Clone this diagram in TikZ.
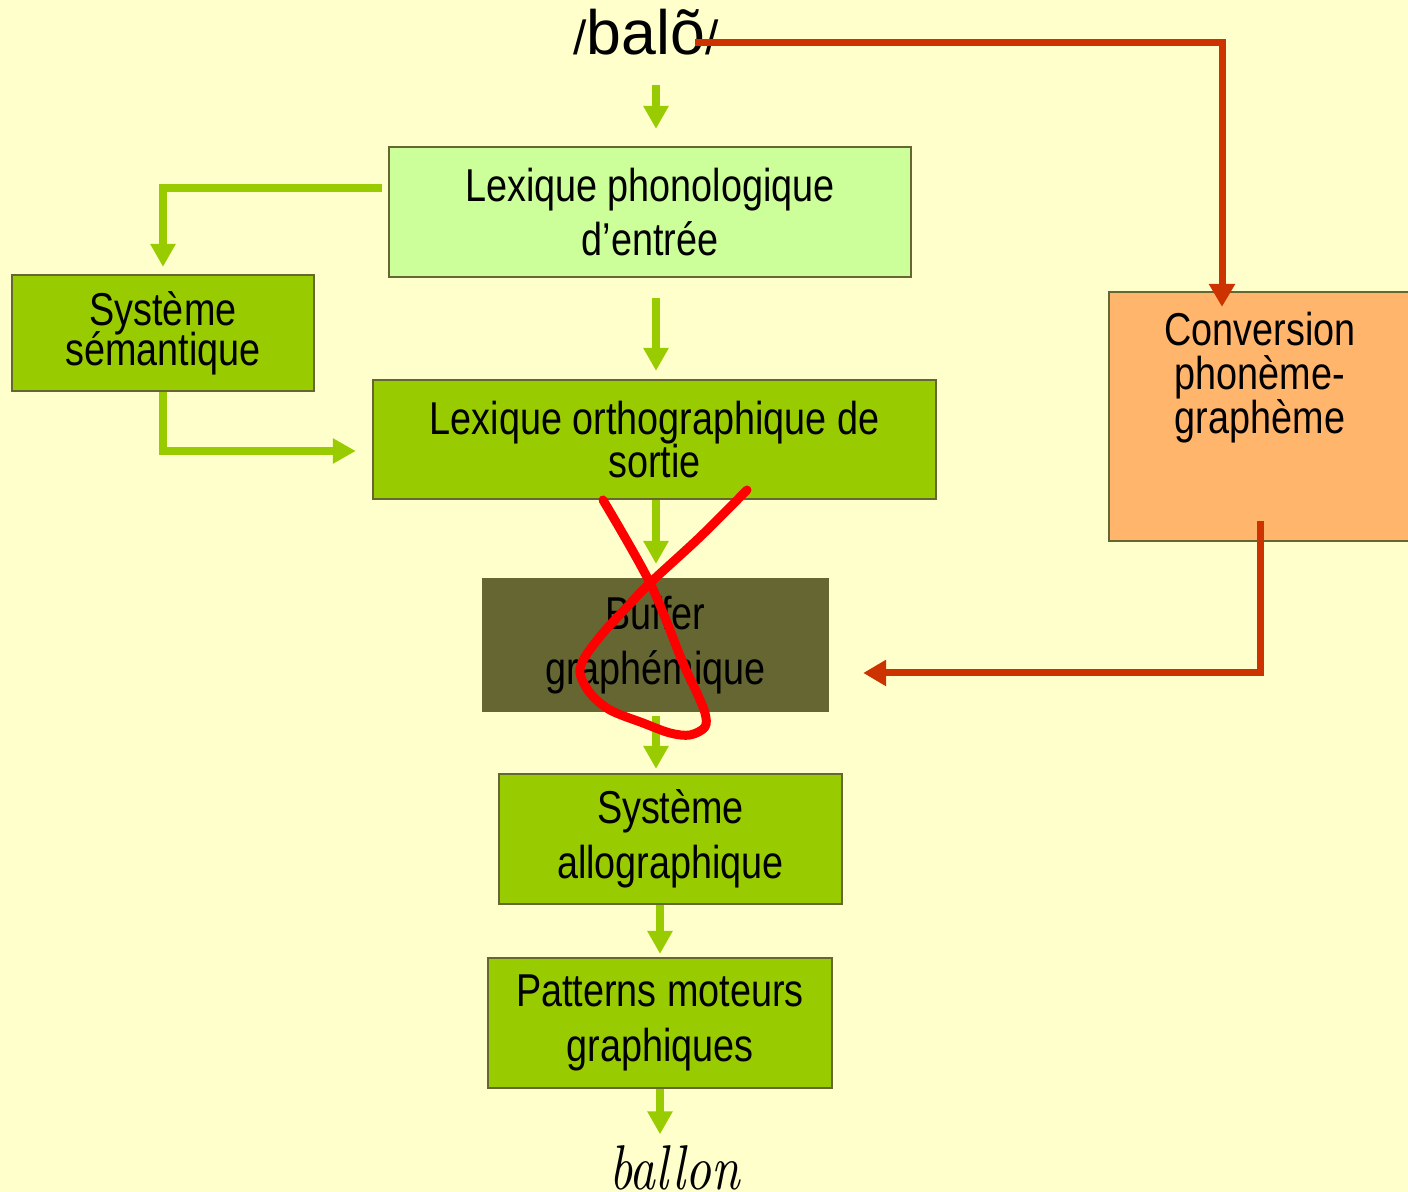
\documentclass[tikz,border=0pt]{standalone}
\usepackage{fontspec}
\setmainfont{Liberation Sans}[FakeStretch=0.82]
\newfontfamily\widefont{Liberation Sans}
\newfontfamily\ballonfont{lmroman10-italic}[Extension=.otf, FakeStretch=0.8]
\usetikzlibrary{arrows.meta}
\definecolor{bgyellow}{HTML}{FFFFCC}
\definecolor{leafgreen}{HTML}{99CC00}
\definecolor{palegreen}{HTML}{CCFF99}
\definecolor{olive}{HTML}{666633}
\definecolor{peach}{HTML}{FFB56B}
\definecolor{rust}{HTML}{CC3300}
\begin{document}
\begin{tikzpicture}[x=0.01cm, y=-0.01cm,
	box/.style={draw=olive, line width=0.6pt, fill=leafgreen, align=center, inner sep=0pt, font={\fontsize{13.1pt}{15.6pt}\selectfont}},
	tightlines/.style={font={\fontsize{13.1pt}{#1}\selectfont\lineskiplimit=-\maxdimen}},
	garrow/.style={leafgreen, line width=0.08cm, -{Triangle[width=0.24cm, length=0.23cm]}},
	rarrow/.style={rust, line width=0.07cm, -{Triangle[width=0.25cm, length=0.23cm]}}]
		\fill[bgyellow] (0,0) rectangle (1408,1192);
		\useasboundingbox (0,0) rectangle (1408,1192);
		
		\node[box, fill=palegreen, minimum width=5.22cm, minimum height=1.30cm] (lexphon) at (650,212) {Lexique phonologique\\d’entrée};
		\node[box, tightlines=11.4pt, minimum width=3.02cm, minimum height=1.16cm] (semant) at (163,333) {Système\\sémantique};
		\node[box, tightlines=12pt, minimum width=5.63cm, minimum height=1.19cm] (lexorth) at (654.5,439.5) {Lexique orthographique de\\sortie};
		\node[box, fill=olive, minimum width=3.45cm, minimum height=1.32cm] (buffer) at (655.5,645) {Buffer\\graphémique};
		\node[box, minimum width=3.43cm, minimum height=1.30cm] (allo) at (670.5,839) {Système\\allographique};
		\node[box, minimum width=3.44cm, minimum height=1.30cm] (motor) at (660,1023) {Patterns moteurs\\graphiques};
		\node[box, fill=peach, minimum width=3.02cm, minimum height=2.49cm,
			label={[tightlines=12.5pt, align=center, anchor=north, inner sep=0.21cm]north:Conversion\\phonème-\\graphème}] (conv) at (1260,416.5) {};
		
		\node[anchor=base, inner sep=0pt] (balo) at (646,55) {\widefont\fontsize{13.6pt}{16pt}\selectfont/\fontsize{17.8pt}{20pt}\selectfont balõ\fontsize{13.6pt}{16pt}\selectfont/};
		\node[anchor=base, inner sep=0pt] (ballon) at (674.5,1190) {\ballonfont\fontsize{18pt}{20pt}\selectfont ballon};
		\coordinate (rstart) at (695,43);
		
		\foreach \from/\to/\col/\gapa/\gapb in {balo/lexphon/656/0.29cm/0.17cm, lexphon/lexorth/656/0.2cm/0.08cm, lexorth/buffer/656/0cm/0.14cm, buffer/allo/656/0.04cm/0.04cm, allo/motor/660/0cm/0.03cm, motor/ballon/660/0cm/0.11cm}
		{
			\draw[garrow, shorten <=\gapa, shorten >=\gapb] (\col,0 |- \from.south) -- (\col,0 |- \to.north);
		}
		\draw[garrow, shorten <=0.06cm, shorten >=0.07cm] (lexphon.west |- 0,188) -| (semant.north);
		\draw[garrow, shorten >=0.16cm] (semant.south) |- (lexorth.west |- 0,451);
		
		\draw[rarrow, shorten >=-0.16cm] (rstart) -| (1222,0 |- conv.north);
		\draw[rarrow, shorten <=-0.21cm, shorten >=0.34cm] (conv.south) |- (buffer.east |- 0,673);
		
		\draw[red, line width=0.09cm, line cap=round, line join=round] plot[smooth, tension=0.55] coordinates {(603,500) (650,583) (683,663) (697,693) (705,713) (705,727) (690,735) (670,733) (643,723) (610,710) (590,693) (580,673) (585,657) (603,633) (627,607) (650,583) (700,537) (747,490)};
	\end{tikzpicture}
\end{document}
